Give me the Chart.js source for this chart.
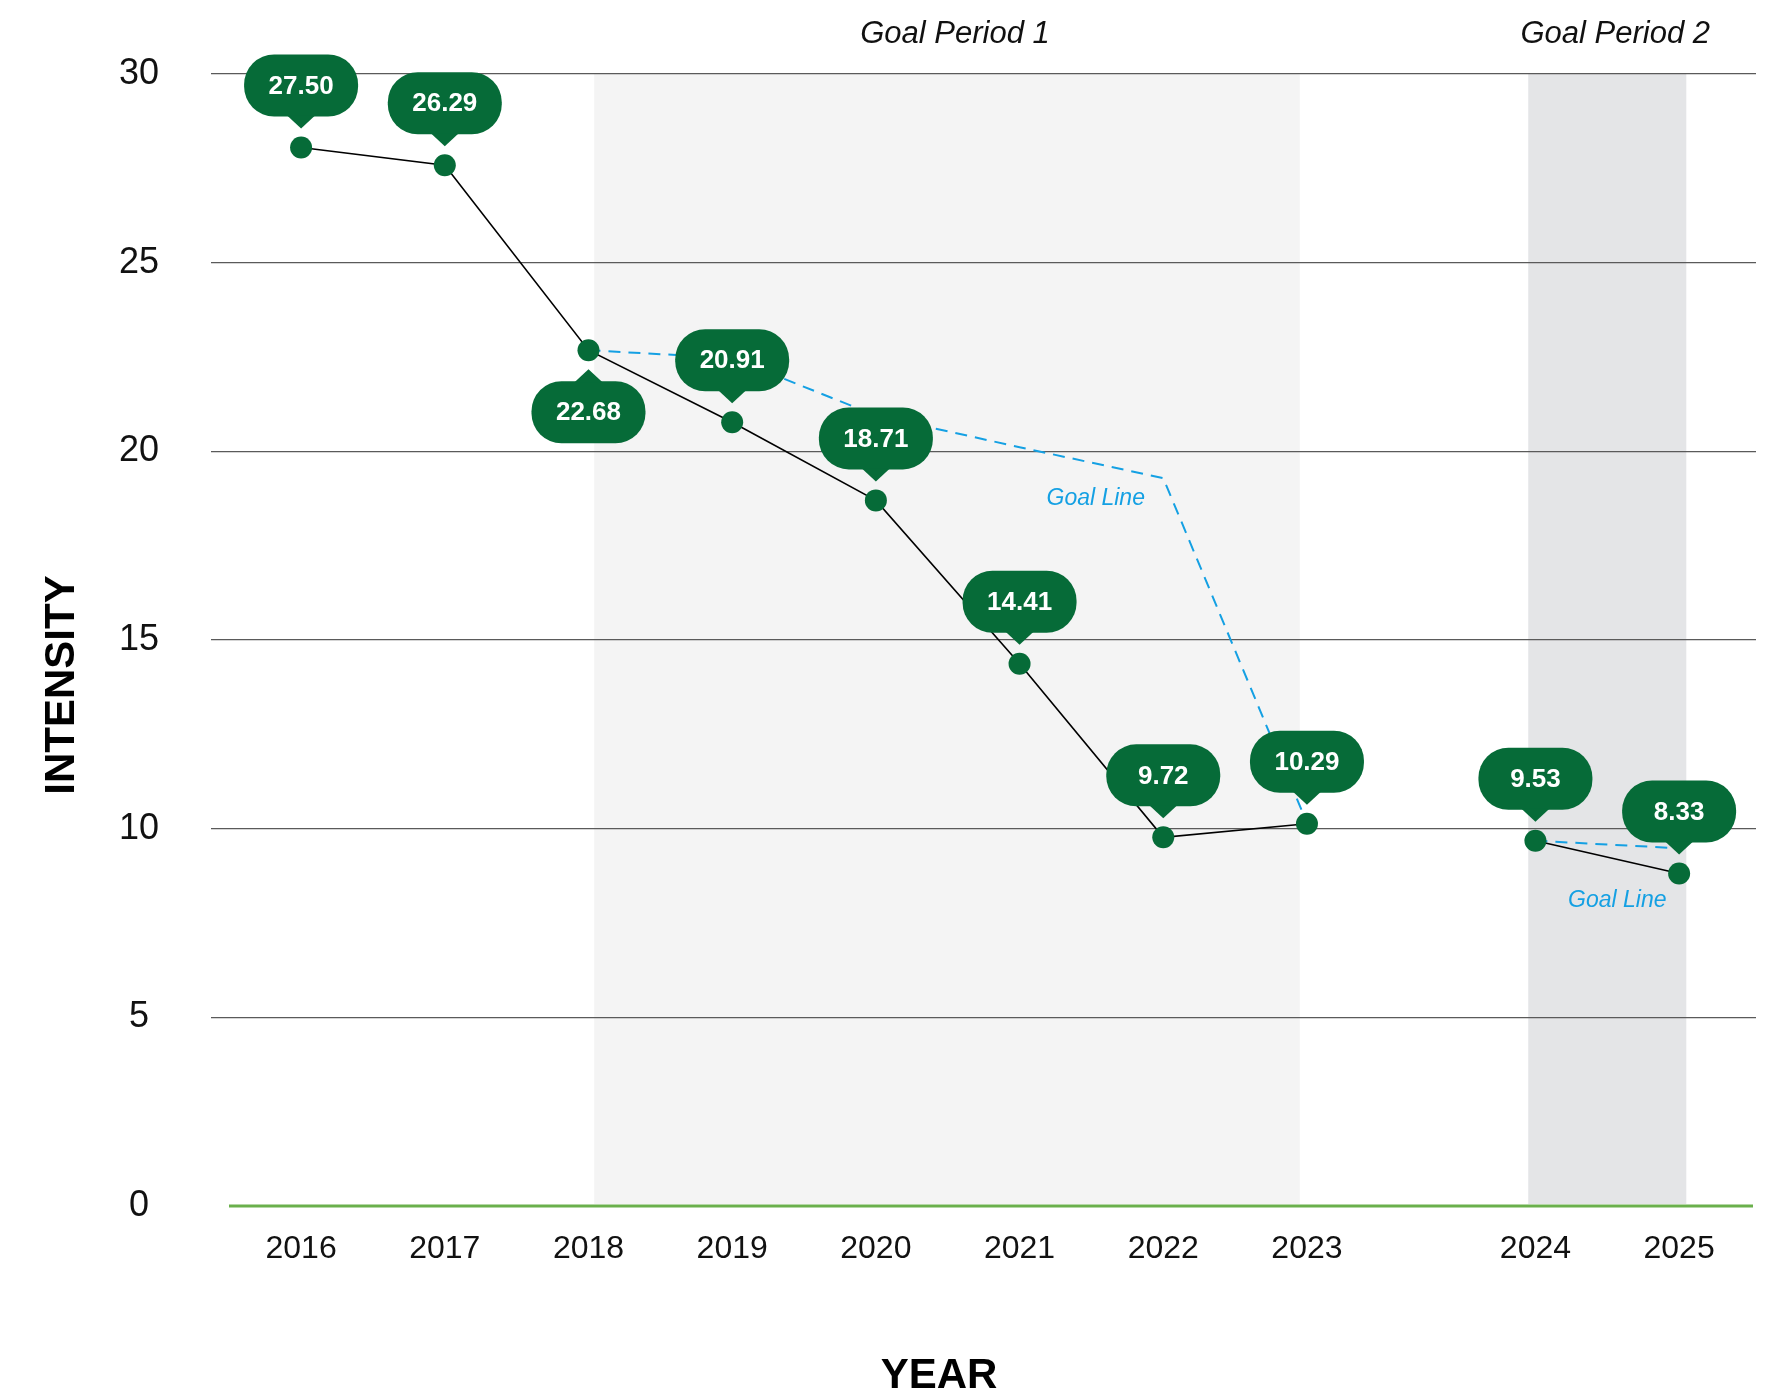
<!DOCTYPE html>
<html>
<head>
<meta charset="utf-8">
<title>Intensity by year</title>
<script src="https://cdn.jsdelivr.net/npm/chart.js@4.4.1/dist/chart.umd.min.js"></script>
<style>
  body { margin: 0; background: #fff; }
  #wrap { width: 1767px; height: 1394px; position: relative; }
</style>
</head>
<body>
<div id="wrap"><canvas id="lineChart"></canvas></div>
<script>
// data
var years = [2016, 2017, 2018, 2019, 2020, 2021, 2022, 2023, 2024, 2025];
var intensity = [28.05, 27.58, 22.68, 20.77, 18.70, 14.37, 9.77, 10.13, 9.68, 8.81];
var intensityLabels = ['27.50', '26.29', '22.68', '20.91', '18.71', '14.41', '9.72', '10.29', '9.53', '8.33'];
var goalPeriod1 = [null, null, 22.68, 22.47, 20.95, 20.11, 19.29, 10.15, null, null];
var goalPeriod2 = [null, null, null, null, null, null, null, null, 9.68, 9.48];
var yTicks = [0, 5, 10, 15, 20, 25, 30];

var periods = [
  { label: 'Goal Period 1', from: 2.04, to: 6.95, color: '#f4f4f4' },
  { label: 'Goal Period 2', from: 8.54, to: 9.64, color: '#e4e5e7' }
];
var goalNotes = [
  { text: 'Goal Line', x: 5.53, y: 18.76 },
  { text: 'Goal Line', x: 9.16, y: 8.10 }
];

var green = '#066b38';
var blue = '#14a0e3';
var fontFamily = "'Liberation Sans', Arial, Helvetica, sans-serif";
Chart.defaults.font.family = fontFamily;

// extra room on the axis between the two goal periods
function slot(i) {
  return years[i] >= 2024 ? i + 0.59 : i;
}
function pts(arr) {
  return arr.map(function(v, i) { return { x: slot(i), y: v }; });
}

function bubble(ctx, cx, py, text, below) {
  var w = 114, h = 62, r = 30, off = 62;
  var cy = below ? py + off : py - off;
  var x0 = cx - w / 2, y0 = cy - h / 2;
  ctx.fillStyle = green;
  ctx.beginPath();
  ctx.moveTo(x0 + r, y0);
  ctx.arcTo(x0 + w, y0, x0 + w, y0 + h, r);
  ctx.arcTo(x0 + w, y0 + h, x0, y0 + h, r);
  ctx.arcTo(x0, y0 + h, x0, y0, r);
  ctx.arcTo(x0, y0, x0 + w, y0, r);
  ctx.closePath();
  ctx.fill();
  // pointer
  var base = below ? y0 + 1 : y0 + h - 1;
  var tip = below ? py + 19 : py - 19;
  ctx.beginPath();
  ctx.moveTo(cx - 14, base);
  ctx.lineTo(cx + 14, base);
  ctx.lineTo(cx, tip);
  ctx.closePath();
  ctx.fill();
  ctx.fillStyle = '#ffffff';
  ctx.font = 'bold 26px ' + fontFamily;
  ctx.textAlign = 'center';
  ctx.textBaseline = 'middle';
  ctx.fillText(text, cx, cy + 1);
}

var decor = {
  id: 'decor',
  beforeDraw: function(chart) {
    var ctx = chart.ctx, xs = chart.scales.x, a = chart.chartArea;
    ctx.save();
    periods.forEach(function(p) {
      var l = xs.getPixelForValue(p.from), r = xs.getPixelForValue(p.to);
      ctx.fillStyle = p.color;
      ctx.fillRect(l, a.top, r - l, a.bottom - a.top - 2);
    });
    ctx.restore();
  },
  beforeDatasetsDraw: function(chart) {
    // green baseline at zero
    var ctx = chart.ctx, ys = chart.scales.y, a = chart.chartArea;
    var y0 = ys.getPixelForValue(0);
    ctx.save();
    ctx.strokeStyle = '#6ab04c';
    ctx.lineWidth = 3;
    ctx.beginPath();
    ctx.moveTo(a.left + 18, y0);
    ctx.lineTo(a.right - 3, y0);
    ctx.stroke();
    ctx.restore();
  },
  afterDatasetsDraw: function(chart) {
    var ctx = chart.ctx, xs = chart.scales.x, ys = chart.scales.y, a = chart.chartArea;
    ctx.save();
    // goal line notes
    ctx.fillStyle = blue;
    ctx.font = 'italic 23px ' + fontFamily;
    ctx.textAlign = 'center';
    ctx.textBaseline = 'middle';
    goalNotes.forEach(function(n) {
      ctx.fillText(n.text, xs.getPixelForValue(n.x), ys.getPixelForValue(n.y));
    });
    // period titles
    ctx.fillStyle = '#111';
    ctx.font = 'italic 31px ' + fontFamily;
    periods.forEach(function(p) {
      var c = (xs.getPixelForValue(p.from) + xs.getPixelForValue(p.to)) / 2;
      ctx.fillText(p.label, c + 8, a.top - 40);
    });
    // value bubbles
    var meta = chart.getDatasetMeta(0);
    meta.data.forEach(function(pt, i) {
      bubble(ctx, pt.x, pt.y, intensityLabels[i], years[i] === 2018);
    });
    // axis titles
    ctx.fillStyle = '#000';
    ctx.font = 'bold 42px ' + fontFamily;
    ctx.save();
    ctx.translate(62, 685);
    ctx.rotate(-Math.PI / 2);
    ctx.fillText('INTENSITY', 0, 0);
    ctx.restore();
    ctx.fillText('YEAR', 939, 1376);
    ctx.restore();
  }
};

new Chart(document.getElementById('lineChart'), {
  type: 'line',
  data: {
    datasets: [
      {
        data: pts(intensity),
        borderColor: '#000',
        borderWidth: 1.6,
        pointRadius: 11,
        pointBackgroundColor: green,
        pointBorderWidth: 0,
        fill: false,
        segment: {
          // no line across the gap between the two periods
          borderColor: function(c) { return years[c.p0DataIndex] === 2023 ? 'rgba(0,0,0,0)' : undefined; }
        }
      },
      {
        data: pts(goalPeriod1),
        borderColor: blue,
        borderWidth: 2,
        borderDash: [12, 8],
        pointRadius: 0,
        fill: false
      },
      {
        data: pts(goalPeriod2),
        borderColor: blue,
        borderWidth: 2,
        borderDash: [12, 8],
        pointRadius: 0,
        fill: false
      }
    ]
  },
  options: {
    responsive: true,
    maintainAspectRatio: false,
    animation: false,
    layout: { padding: { top: 74, right: 9, left: 0, bottom: 0 } },
    plugins: {
      legend: { display: false },
      tooltip: { enabled: false }
    },
    scales: {
      x: {
        type: 'linear',
        min: -0.627,
        max: 10.125,
        afterBuildTicks: function(s) {
          s.ticks = years.map(function(y, i) { return { value: slot(i) }; });
        },
        afterFit: function(s) { s.height = 188; },
        border: { display: false },
        grid: { display: false, drawTicks: false },
        ticks: {
          autoSkip: false,
          maxRotation: 0,
          padding: 24,
          color: '#111',
          font: { size: 32 },
          callback: function(v, index) { return String(years[index]); }
        }
      },
      y: {
        min: 0,
        max: 30,
        afterBuildTicks: function(s) {
          s.ticks = yTicks.map(function(v) { return { value: v }; });
        },
        afterFit: function(s) { s.width = 211; },
        border: { display: false },
        grid: {
          drawTicks: false,
          color: function(c) { return c.tick && c.tick.value === 0 ? 'rgba(0,0,0,0)' : '#5a5a5a'; },
          lineWidth: 1.2
        },
        ticks: {
          padding: 52,
          crossAlign: 'center',
          color: '#111',
          font: { size: 36 }
        }
      }
    }
  },
  plugins: [decor]
});
</script>
</body>
</html>
